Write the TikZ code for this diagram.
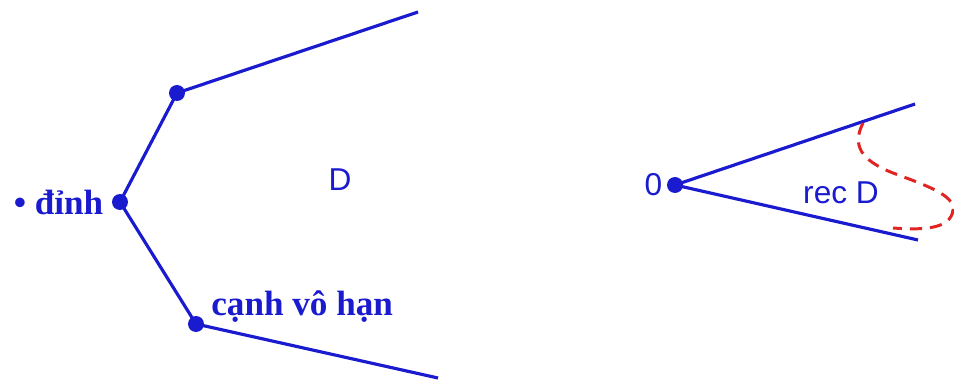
\documentclass[tikz,border=0pt]{standalone}
\usepackage{fontspec}
\setmainfont{Liberation Serif}
\newfontfamily\arialfont{Liberation Sans}
\usetikzlibrary{positioning}
\definecolor{rayBlue}{HTML}{1A1ACF}
\definecolor{dashRed}{HTML}{E02424}

\tikzset{
  vertexdot/.style={circle, fill=rayBlue, inner sep=0pt, minimum size=0.32cm},
  ray/.style={draw=rayBlue, line width=1.8pt},
  serifLabel/.style={text=rayBlue, font=\fontsize{20}{22}\selectfont\bfseries, inner sep=0pt},
  sansLabel/.style={text=rayBlue, font=\arialfont\fontsize{18}{20}\selectfont, inner sep=0pt}
}

\begin{document}
\begin{tikzpicture}[x=0.02cm, y=-0.02cm]
\useasboundingbox (0,0) rectangle (954,381);

% polyhedron D
\node[vertexdot] (v0) at (120,202) {};
\node[vertexdot] (v1) at (177,93) {};
\node[vertexdot] (v2) at (196,324) {};
\coordinate (e1) at (418,12);
\coordinate (e2) at (438,378);

\draw[ray] (e1) -- (v1.center) -- (v0.center) -- (v2.center) -- (e2);

\node[serifLabel, left=0.16cm of v0] (dinh) {• đỉnh};
\node[serifLabel, anchor=base west] (canh) at (211,316) {cạnh vô hạn};
\node[sansLabel] (setD) at (340,180) {D};

% recession cone
\node[vertexdot] (o) at (675,185) {};
\coordinate (r1) at (915,104);
\coordinate (r2) at (918,240);
\draw[ray] (r1) -- (o.center) -- (r2);

\node[sansLabel, left=0.08cm of o] (zero) {0};
\node[sansLabel] (recD) at (841,193) {rec D};

\draw[dashRed, line width=1.7pt, dash pattern=on 7pt off 4.5pt]
  (863,123) .. controls (852,145) and (860,160) .. (893,173)
  .. controls (925,185) and (955,195) .. (953,210)
  .. controls (951,230) and (920,230) .. (893,228);

\end{tikzpicture}
\end{document}
